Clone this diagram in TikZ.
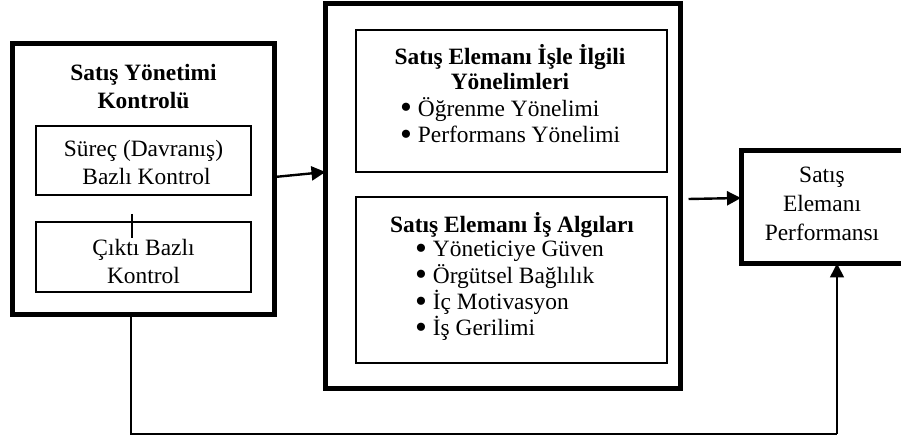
\documentclass[tikz,border=0pt]{standalone}
\usepackage{graphicx}
\usepackage{fontspec}
\setmainfont{Liberation Serif}
\usetikzlibrary{arrows.meta,calc}
\newcommand\bul{\smash{\raisebox{-2.6bp}{\scalebox{1.45}{•}}}}
\begin{document}
\begin{tikzpicture}[x=1bp,y=-1bp,
  thickbox/.style={draw,line width=5bp,rectangle,inner sep=0pt,outer sep=0pt},
  thinbox/.style={draw,line width=1.8bp,rectangle,inner sep=0pt,outer sep=0pt},
  txt/.style={inner sep=0pt,font=\fontsize{23.5}{26.5}\selectfont},
  btxt/.style={inner sep=0pt,font=\fontsize{23.5}{26.5}\selectfont\bfseries},
  tip/.style={-{Triangle[length=14bp,width=14bp]}},
  arr/.style={line width=2.4bp,tip},
  fb/.style={line width=1.6bp}]
\useasboundingbox (0,0) rectangle (901,439);
% boxes
\node[thickbox,minimum width=262bp,minimum height=270bp] (L) at (143.5,179) {};
\node[thinbox,minimum width=215bp,minimum height=69bp] (S) at (143.5,160.5) {};
\node[thinbox,minimum width=215bp,minimum height=70bp] (C) at (143.5,257) {};
\node[thickbox,minimum width=355bp,minimum height=384bp] (M) at (503,196) {};
\node[thinbox,minimum width=311bp,minimum height=142bp] (A) at (511.5,101) {};
\node[thinbox,minimum width=311bp,minimum height=166bp] (B) at (511.5,280) {};
\node[thickbox,minimum width=162bp,minimum height=113bp] (P) at (822,207) {};
% texts
\node[btxt,align=center,font=\fontsize{23.5}{27.5}\selectfont\bfseries] (Lt) at (143.5,86.5) {Satış Yönetimi\\Kontrolü};
\node[txt,align=center,font=\fontsize{23.5}{28.5}\selectfont] (St) at (143.5,162.5) {Süreç (Davranış)\\\hspace*{6bp}Bazlı Kontrol};
\node[txt,align=center,font=\fontsize{23.5}{27.5}\selectfont] (Ct) at (143.5,261.5) {Çıktı Bazlı\\Kontrol};
\node[btxt,align=center,font=\fontsize{23.5}{25.5}\selectfont\bfseries] (At) at (510,67) {Satış Elemanı İşle İlgili\\Yönelimleri};
\node[txt,align=left,anchor=west] (Ab) at (400,120) {\bul\ Öğrenme Yönelimi\\\bul\ Performans Yönelimi};
\node[btxt] (Bt) at (512,225) {Satış Elemanı İş Algıları};
\node[txt,align=left,anchor=west] (Bb) at (415,291) {\bul\ Yöneticiye Güven\\\bul\ Örgütsel Bağlılık\\\bul\ İç Motivasyon\\\bul\ İş Gerilimi};
\node[txt,align=center,font=\fontsize{23.5}{29}\selectfont] (Pt) at (822,204) {Satış\\Elemanı\\Performansı};
% connectors
\draw[arr] ([yshift=2bp]L.east) -- ([yshift=7bp]L.east -| M.west);
\draw[arr] ([xshift=8bp,yshift=-3bp]M.east) -- ([yshift=9bp]P.west);
\coordinate (c1) at (131,434);
\coordinate (c2) at (837,434);
\draw[fb] (c1 |- L.south) -- (c1) -- (c2);
\draw[fb,tip] (c2) -- (c2 |- P.south);
\coordinate (s1) at (132,214);
\coordinate (s2) at (132,238);
\draw[fb] (s1) -- (s2);
\end{tikzpicture}
\end{document}
